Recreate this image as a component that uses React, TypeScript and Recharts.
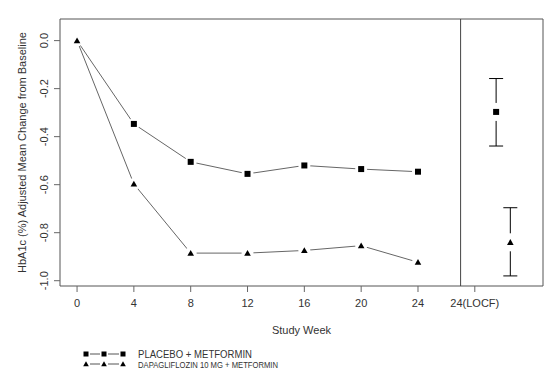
import {
  ComposedChart,
  Line,
  ErrorBar,
  XAxis,
  YAxis,
  ReferenceArea,
  ReferenceLine,
} from 'recharts';

const weeks = [0, 4, 8, 12, 16, 20, 24];
const placebo = [0, -0.347, -0.505, -0.555, -0.52, -0.535, -0.546];
const dapagliflozin = [0, -0.597, -0.885, -0.885, -0.874, -0.854, -0.923];

// 24-week LOCF estimates: mean, lower and upper bound
const locfPlacebo = [-0.297, -0.439, -0.158];
const locfDapagliflozin = [-0.84, -0.98, -0.696];

const xTicks = [0, 4, 8, 12, 16, 20, 24, 28];
const xTickLabels = ['0', '4', '8', '12', '16', '20', '24', '24(LOCF)'];
const yTicks = [0, -0.2, -0.4, -0.6, -0.8, -1.0];

const X_DOMAIN: [number, number] = [-1.2, 32.8];
const Y_DOMAIN: [number, number] = [-1.022, 0.09];

const FONT = '"Liberation Sans", Arial, sans-serif';
const LINE = '#666';

const data = weeks.map((week, i) => ({
  week,
  placebo: placebo[i],
  dapa: dapagliflozin[i],
}));

const locfPlaceboData = [
  {
    week: 29.5,
    value: locfPlacebo[0],
    err: [locfPlacebo[0] - locfPlacebo[1], locfPlacebo[2] - locfPlacebo[0]],
  },
];
const locfDapaData = [
  {
    week: 30.5,
    value: locfDapagliflozin[0],
    err: [locfDapagliflozin[0] - locfDapagliflozin[1], locfDapagliflozin[2] - locfDapagliflozin[0]],
  },
];

const SquareDot = (props: any) => {
  const { cx, cy, gap } = props;
  if (cx == null || cy == null) return null;
  return (
    <g>
      {gap === 'v' ? (
        <rect x={cx - 3} y={cy - 9} width={6} height={18} fill="#fff" />
      ) : (
        <circle cx={cx} cy={cy} r={6} fill="#fff" />
      )}
      <rect x={cx - 3} y={cy - 3} width={6} height={6} fill="#000" />
    </g>
  );
};

const TriangleDot = (props: any) => {
  const { cx, cy, gap } = props;
  if (cx == null || cy == null) return null;
  return (
    <g>
      {gap === 'v' ? (
        <rect x={cx - 3} y={cy - 9} width={6} height={18} fill="#fff" />
      ) : (
        <circle cx={cx} cy={cy} r={6} fill="#fff" />
      )}
      <path d={`M${cx - 3.3},${cy + 2.6} L${cx + 3.3},${cy + 2.6} L${cx},${cy - 3.2} Z`} fill="#000" />
    </g>
  );
};

const YTick = (props: any) => {
  const { y, payload } = props;
  return (
    <g transform={`translate(44, ${y}) rotate(-90)`}>
      <text textAnchor="middle" dy="0.35em" fontSize={11} fill="#333" fontFamily={FONT}>
        {Number(payload.value).toFixed(1)}
      </text>
    </g>
  );
};

export default function App() {
  return (
    <div style={{ position: 'absolute', left: 0, top: 0, width: 553, height: 373, background: '#fff' }}>
      <ComposedChart
        width={553}
        height={373}
        data={data}
        margin={{ top: 19, right: 10, bottom: 39, left: 0 }}
      >
        <XAxis
          dataKey="week"
          type="number"
          domain={X_DOMAIN}
          allowDataOverflow
          ticks={xTicks}
          interval={0}
          tickFormatter={(v: number) => xTickLabels[xTicks.indexOf(v)] ?? ''}
          axisLine={false}
          tickLine={{ stroke: LINE }}
          tickSize={6}
          tickMargin={7}
          height={48}
          tick={{ fontSize: 11, fill: '#333', fontFamily: FONT }}
          label={{
            value: 'Study Week',
            position: 'insideBottom',
            offset: 0,
            fontSize: 11,
            fill: '#333',
            fontFamily: FONT,
          }}
        />
        <YAxis
          type="number"
          domain={Y_DOMAIN}
          allowDataOverflow
          ticks={yTicks}
          interval={0}
          axisLine={false}
          tickLine={{ stroke: LINE }}
          tickSize={6}
          width={60}
          tick={<YTick />}
          label={{
            value: 'HbA1c (%) Adjusted Mean Change from Baseline',
            angle: -90,
            position: 'center',
            dx: -8,
            fontSize: 11,
            fill: '#333',
            fontFamily: FONT,
          }}
        />
        <ReferenceArea
          x1={X_DOMAIN[0]}
          x2={X_DOMAIN[1]}
          y1={Y_DOMAIN[0]}
          y2={Y_DOMAIN[1]}
          fill="none"
          stroke="#555"
          strokeWidth={1}
          ifOverflow="visible"
        />
        <ReferenceLine x={27} stroke="#444" strokeWidth={1} />
        <Line
          dataKey="placebo"
          stroke={LINE}
          strokeWidth={1}
          dot={<SquareDot />}
          activeDot={false}
          isAnimationActive={false}
        />
        <Line
          dataKey="dapa"
          stroke={LINE}
          strokeWidth={1}
          dot={<TriangleDot />}
          activeDot={false}
          isAnimationActive={false}
        />
        <Line
          data={locfPlaceboData}
          dataKey="value"
          stroke="none"
          dot={<SquareDot gap="v" />}
          activeDot={false}
          isAnimationActive={false}
        >
          <ErrorBar dataKey="err" width={7} stroke="#000" strokeWidth={1} direction="y" />
        </Line>
        <Line
          data={locfDapaData}
          dataKey="value"
          stroke="none"
          dot={<TriangleDot gap="v" />}
          activeDot={false}
          isAnimationActive={false}
        >
          <ErrorBar dataKey="err" width={7} stroke="#000" strokeWidth={1} direction="y" />
        </Line>
      </ComposedChart>
      <svg
        width={553}
        height={373}
        style={{ position: 'absolute', left: 0, top: 0, pointerEvents: 'none' }}
      >
        <g stroke="#555" strokeWidth={1}>
          <line x1={90} y1={354} x2={100} y2={354} />
          <line x1={108} y1={354} x2={119} y2={354} />
          <line x1={90} y1={364} x2={100} y2={364} />
          <line x1={108} y1={364} x2={119} y2={364} />
        </g>
        {[86, 104, 123].map((x) => (
          <rect key={`s${x}`} x={x - 2.5} y={351.5} width={5} height={5} fill="#000" />
        ))}
        {[86, 104, 123].map((x) => (
          <path key={`t${x}`} d={`M${x - 2.8},${366.2} L${x + 2.8},${366.2} L${x},${361.2} Z`} fill="#000" />
        ))}
        <text x={138} y={357.5} fontSize={10} fill="#333" fontFamily={FONT} textLength={114} lengthAdjust="spacingAndGlyphs">
          PLACEBO + METFORMIN
        </text>
        <text x={138} y={367.5} fontSize={9} fill="#333" fontFamily={FONT} textLength={140} lengthAdjust="spacingAndGlyphs">
          DAPAGLIFLOZIN 10 MG + METFORMIN
        </text>
      </svg>
    </div>
  );
}
